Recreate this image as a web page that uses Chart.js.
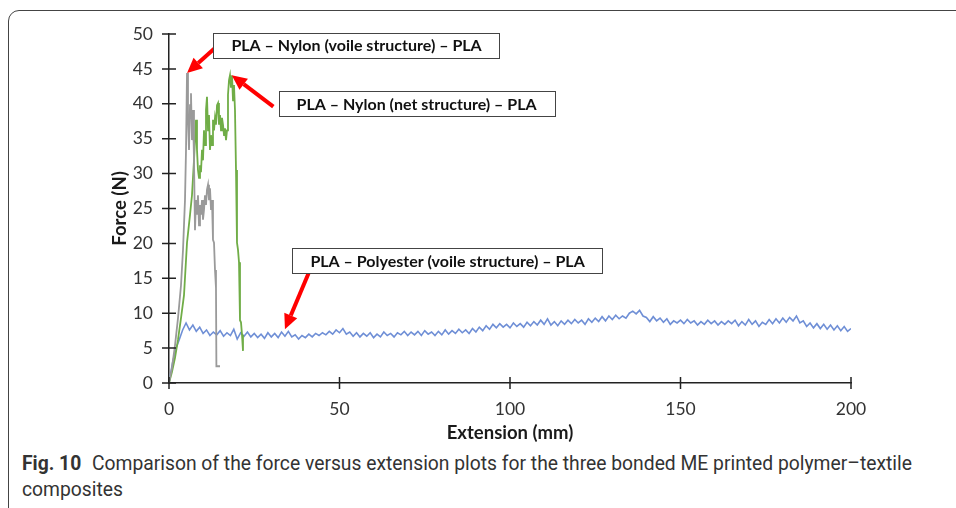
<!DOCTYPE html>
<html>
<head>
<meta charset="utf-8">
<script src="https://cdn.jsdelivr.net/npm/chart.js@4.4.1/dist/chart.umd.min.js"></script>
<style>
  html, body { margin: 0; padding: 0; background: #fff; overflow: hidden; }
  body { width: 956px; height: 508px; position: relative; }
  #frame { position: absolute; left: 8px; top: 10px; width: 990px; height: 530px;
           border: 1px solid #444; border-top-left-radius: 11px; }
  #chart { position: absolute; left: 0; top: 0; }
  #caption { position: absolute; left: 22px; top: 451px; font-family: Roboto, sans-serif;
             font-size: 19.3px; line-height: 26px; color: #333; white-space: nowrap; }
  #caption b { font-weight: bold; margin-right: 6px; }
</style>
</head>
<body>
<div id="frame"></div>
<canvas id="chart" width="956" height="446"></canvas>
<div id="caption"><b>Fig. 10</b> Comparison of the force versus extension plots for the three bonded ME printed polymer–textile<br>composites</div>
<script>
"use strict"

// tick labels
var extTicks = [0, 50, 100, 150, 200];
var forceTicks = [0, 5, 10, 15, 20, 25, 30, 35, 40, 45, 50];

// PLA – Nylon (voile structure) – PLA  (grey)
var voileExt = [0, 0.88, 1.76, 2.64, 3.52, 4.11, 4.69, 4.99, 5.28, 5.57, 5.87, 6.16, 6.45, 6.74, 7.04, 7.33,
  7.62, 7.92, 8.21, 8.5, 8.8, 9.09, 9.38, 9.68, 9.97, 10.26, 10.56, 10.85, 11.14, 11.44, 11.73, 12.02,
  12.32, 12.61, 12.9, 13.2, 13.49, 13.78, 13.9, 14.96];
var voileForce = [0, 2.2, 5.4, 9.3, 14.0, 19.1, 26.2, 33.4, 44.4, 37.7, 33.4, 39.8, 41.5, 34.8, 39.1, 31.9,
  21.9, 26.2, 24.1, 26.9, 22.6, 25.5, 24.1, 26.2, 23.4, 24.8, 26.9, 25.5, 27.7, 28.4, 26.2, 27.9,
  24.8, 26.2, 20.5, 20.1, 16.2, 13.6, 2.4, 2.4];

// PLA – Nylon (net structure) – PLA  (green)
var netExt = [0, 0.88, 1.76, 2.64, 3.52, 4.4, 5.28, 6.16, 6.74, 7.33, 7.62, 7.92, 8.21, 8.5, 8.8, 9.09,
  9.38, 9.68, 9.97, 10.26, 10.56, 10.85, 11.14, 11.44, 11.73, 12.02, 12.32, 12.61, 12.9, 13.2, 13.49,
  13.78, 14.08, 14.37, 14.66, 14.96, 15.25, 15.54, 15.84, 16.13, 16.42, 16.72, 17.01, 17.3, 17.6,
  17.89, 18.18, 18.48, 18.77, 19.06, 19.35, 19.65, 19.94, 20.23, 20.53, 20.82, 21.11, 21.41, 21.7];
var netForce = [0, 1.6, 3.6, 6.2, 9.3, 12.6, 20.1, 24.1, 26.9, 31.9, 34.8, 37.7, 33.4, 30.5, 29.4, 31.2,
  30.2, 33.4, 31.9, 36.2, 34.1, 39.1, 41.0, 36.2, 38.4, 33.4, 35.5, 34.1, 37.7, 36.2, 38.0,
  37.0, 39.8, 40.1, 37.0, 38.4, 36.2, 38.0, 37.0, 35.5, 36.5, 34.8, 36.2, 41.3, 43.4,
  44.1, 42.3, 44.0, 40.5, 42.7, 39.1, 30.5, 20.1, 19.1, 17.3, 9.0, 8.7, 6.9, 4.6];

// PLA – Polyester (voile structure) – PLA  (blue)
var polyExt = [0, 1, 2, 3, 4, 5, 6, 7, 8, 9, 10, 11, 12, 13, 14, 15, 16, 17, 18, 19, 20,
  21, 22, 23, 24, 25, 26, 27, 28, 29, 30, 31, 32, 33, 34, 35, 36, 37, 38, 39, 40,
  41, 42, 43, 44, 45, 46, 47, 48, 49, 50, 51, 52, 53, 54, 55, 56, 57, 58, 59, 60,
  61, 62, 63, 64, 65, 66, 67, 68, 69, 70, 71, 72, 73, 74, 75, 76, 77, 78, 79, 80,
  81, 82, 83, 84, 85, 86, 87, 88, 89, 90, 91, 92, 93, 94, 95, 96, 97, 98, 99, 100,
  101, 102, 103, 104, 105, 106, 107, 108, 109, 110, 111, 112, 113, 114, 115, 116, 117, 118, 119, 120,
  121, 122, 123, 124, 125, 126, 127, 128, 129, 130, 131, 132, 133, 134, 135, 136, 137, 138, 139, 140,
  141, 142, 143, 144, 145, 146, 147, 148, 149, 150, 151, 152, 153, 154, 155, 156, 157, 158, 159, 160,
  161, 162, 163, 164, 165, 166, 167, 168, 169, 170, 171, 172, 173, 174, 175, 176, 177, 178, 179, 180,
  181, 182, 183, 184, 185, 186, 187, 188, 189, 190, 191, 192, 193, 194, 195, 196, 197, 198, 199, 200];
var polyForce = [0, 2.8, 4.9, 6.2, 7.6, 8.6, 7.6, 8.3, 7.4, 8.0, 7.1, 7.6, 6.8, 7.3, 6.9, 7.5, 6.7, 7.2, 6.8, 7.7, 6.3,
  7.2, 6.7, 7.3, 6.6, 7.1, 6.5, 7.0, 6.4, 7.2, 6.6, 7.1, 6.5, 7.3, 6.7, 7.4, 6.6, 6.9, 6.3, 6.8, 6.5,
  7.0, 6.6, 7.1, 6.8, 7.2, 6.9, 7.4, 7.0, 7.6, 7.2, 7.8, 7.0, 7.3, 6.7, 7.2, 6.6, 7.1, 6.7, 7.2, 6.5,
  7.0, 6.6, 7.3, 6.8, 7.1, 6.6, 7.2, 6.9, 7.4, 6.8, 7.3, 6.9, 7.4, 6.8, 7.5, 7.0, 7.3, 6.8, 7.4, 6.9,
  7.6, 7.0, 7.5, 7.1, 7.7, 7.2, 7.6, 7.1, 7.8, 7.3, 8.0, 7.5, 8.2, 7.7, 8.4, 7.9, 8.5, 8.0, 8.4, 7.9,
  8.6, 8.1, 8.5, 8.0, 8.7, 8.2, 8.8, 8.3, 9.0, 8.4, 9.2, 8.3, 8.8, 8.2, 8.9, 8.4, 9.0, 8.5, 9.1, 8.6,
  9.0, 8.4, 9.2, 8.7, 9.3, 8.8, 9.5, 8.9, 9.6, 9.1, 9.7, 9.2, 9.6, 9.3, 10.0, 10.3, 9.9, 10.4, 9.6, 9.4,
  8.8, 9.5, 8.9, 9.3, 8.7, 9.2, 8.4, 8.9, 8.6, 9.0, 8.5, 9.1, 8.6, 8.9, 8.3, 8.8, 8.4, 9.0, 8.5, 8.9,
  8.3, 8.8, 8.4, 8.9, 8.5, 9.0, 8.2, 8.8, 8.3, 9.1, 8.4, 8.9, 8.1, 8.7, 8.4, 9.1, 8.5, 9.2, 8.6, 9.3,
  8.7, 9.4, 8.9, 9.6, 8.6, 8.9, 8.1, 8.6, 7.9, 8.5, 7.8, 8.4, 7.7, 8.3, 7.6, 8.2, 7.5, 8.1, 7.4, 7.8];

function pairs(xs, ys) {
  return xs.map(function (x, i) { return { x: x, y: ys[i] }; });
}

// callouts, in data units: box centre, arrow tail, arrow tip
var callouts = [
  { text: 'PLA – Nylon (voile structure) – PLA', box: [55.0, 48.4], tail: [13.5, 48.0], tip: [5.3, 44.4] },
  { text: 'PLA – Nylon (net structure) – PLA', box: [72.6, 40.0], tail: [30.6, 39.6], tip: [18.4, 44.1] },
  { text: 'PLA – Polyester (voile structure) – PLA', box: [81.7, 17.55], tail: [40.9, 15.7], tip: [34.0, 7.7] }
];

var crossTicks = {
  id: 'crossTicks',
  afterDraw: function (chart) {
    var c = chart.ctx, xs = chart.scales.x, ys = chart.scales.y;
    var x0 = xs.getPixelForValue(0), y0 = ys.getPixelForValue(0);
    c.save();
    c.strokeStyle = '#222';
    c.lineWidth = 1.5;
    c.beginPath();
    forceTicks.forEach(function (v) {
      var p = ys.getPixelForValue(v);
      c.moveTo(x0 - 7, p); c.lineTo(x0 + 7, p);
    });
    extTicks.forEach(function (v) {
      var p = xs.getPixelForValue(v);
      c.moveTo(p, y0 - 6); c.lineTo(p, y0 + 6);
    });
    c.stroke();
    c.restore();
  }
};

var calloutPlugin = {
  id: 'callouts',
  afterDraw: function (chart) {
    var c = chart.ctx, xs = chart.scales.x, ys = chart.scales.y;
    c.save();
    callouts.forEach(function (n) {
      var tx = xs.getPixelForValue(n.tail[0]), ty = ys.getPixelForValue(n.tail[1]);
      var px = xs.getPixelForValue(n.tip[0]), py = ys.getPixelForValue(n.tip[1]);
      var ang = Math.atan2(py - ty, px - tx);
      var head = 15, half = 7;
      var bx = px - head * Math.cos(ang), by = py - head * Math.sin(ang);
      c.strokeStyle = '#ff0000';
      c.fillStyle = '#ff0000';
      c.lineWidth = 4;
      c.beginPath();
      c.moveTo(tx, ty); c.lineTo(bx, by);
      c.stroke();
      c.beginPath();
      c.moveTo(px, py);
      c.lineTo(bx + half * Math.sin(ang), by - half * Math.cos(ang));
      c.lineTo(bx - half * Math.sin(ang), by + half * Math.cos(ang));
      c.closePath();
      c.fill();
    });
    c.font = 'bold 16px Lato';
    c.textAlign = 'center';
    c.textBaseline = 'middle';
    callouts.forEach(function (n) {
      var cx = xs.getPixelForValue(n.box[0]), cy = ys.getPixelForValue(n.box[1]);
      var w = c.measureText(n.text).width + 36, h = 25;
      c.fillStyle = '#fff';
      c.fillRect(cx - w / 2, cy - h / 2, w, h);
      c.strokeStyle = '#444';
      c.lineWidth = 1;
      c.strokeRect(Math.round(cx - w / 2) + 0.5, Math.round(cy - h / 2) + 0.5, Math.round(w), h);
      c.fillStyle = '#111';
      c.fillText(n.text, cx, cy + 1);
    });
    c.restore();
  }
};

var ctx = document.getElementById('chart').getContext('2d');
var forceChart = new Chart(ctx, {
  type: 'line',
  data: {
    datasets: [{
      label: 'PLA – Nylon (voile structure) – PLA',
      data: pairs(voileExt, voileForce),
      borderColor: '#9a9a9a',
      borderWidth: 1.8
    }, {
      label: 'PLA – Nylon (net structure) – PLA',
      data: pairs(netExt, netForce),
      borderColor: '#70ad47',
      borderWidth: 1.8
    }, {
      label: 'PLA – Polyester (voile structure) – PLA',
      data: pairs(polyExt, polyForce),
      borderColor: '#6f8fd6',
      borderWidth: 1.6
    }]
  },
  options: {
    responsive: false,
    animation: false,
    elements: { point: { radius: 0 }, line: { tension: 0 } },
    layout: { padding: { left: 105, right: 105, top: 34, bottom: 0 } },
    plugins: { legend: { display: false }, tooltip: { enabled: false } },
    scales: {
      x: {
        type: 'linear', min: 0, max: 200,
        afterBuildTicks: function (s) { s.ticks = extTicks.map(function (v) { return { value: v }; }); },
        afterFit: function (s) { s.height = 63; },
        grid: { display: false, drawTicks: false },
        border: { color: '#222', width: 1.5 },
        ticks: { padding: 16, color: '#333', font: { family: 'Lato', size: 17.5 } },
        title: { display: true, text: 'Extension (mm)', color: '#1a1a1a',
                 font: { family: 'Lato', size: 18.5, weight: 'bold' }, padding: { top: 2, bottom: 2 } }
      },
      y: {
        min: 0, max: 50,
        afterBuildTicks: function (s) { s.ticks = forceTicks.map(function (v) { return { value: v }; }); },
        afterFit: function (s) { s.width = 64; },
        grid: { display: false, drawTicks: false },
        border: { color: '#222', width: 1.5 },
        ticks: { padding: 16, color: '#333', font: { family: 'Lato', size: 17.5 } },
        title: { display: true, text: 'Force (N)', color: '#1a1a1a',
                 font: { family: 'Lato', size: 18.5, weight: 'bold' }, padding: { top: 4, bottom: 4 } }
      }
    }
  },
  plugins: [crossTicks, calloutPlugin]
});
</script>
</body>
</html>
